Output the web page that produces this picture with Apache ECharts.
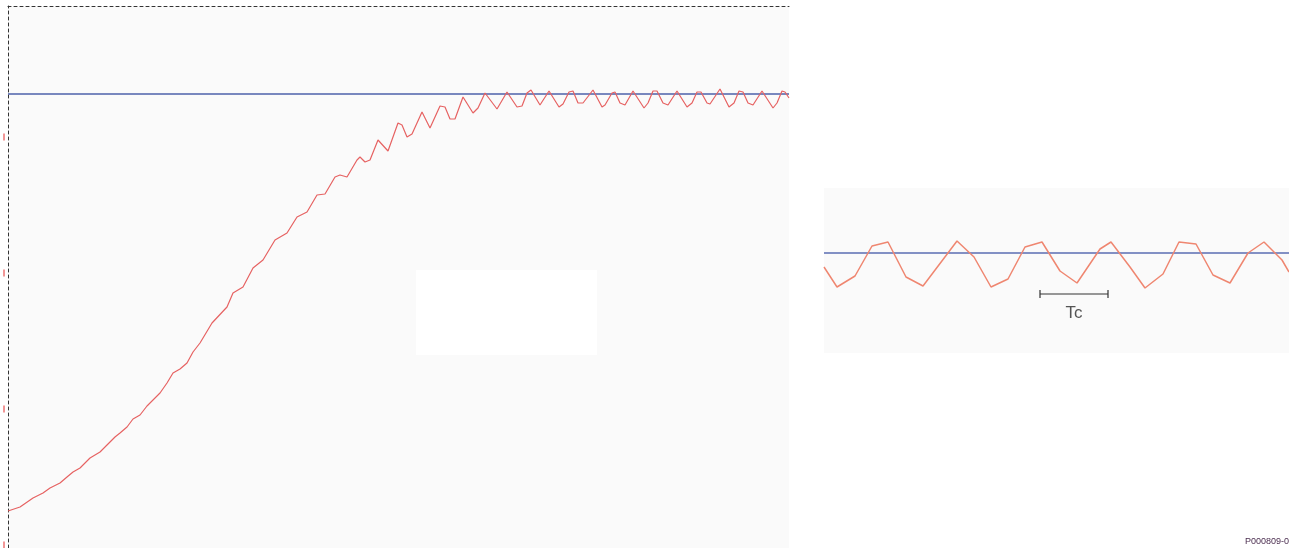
<!DOCTYPE html>
<html>
<head>
<meta charset="utf-8">
<script src="https://cdn.jsdelivr.net/npm/echarts@6/dist/echarts.min.js"></script>
<style>
html,body{margin:0;padding:0;background:#fff;}
#chart{width:1289px;height:548px;}
</style>
</head>
<body>
<div id="chart"></div>
<script>
// Main panel: time (px-scaled units) and measured value
const leftTime = [0,12,25,35,42,52,59,65,72,82,92,99,107,112,119,125,132,139,152,159,165,172,179,185,192,204,219,225,235,245,255,267,279,289,299,309,317,327,332,339,349,352,357,362,370,380,390,394,399,404,414,422,432,437,442,447,455,465,470,477,479,489,499,509,514,519,523,532,541,551,555,561,565,570,575,585,594,597,604,607,612,617,625,636,640,645,649,655,660,669,679,684,689,693,699,702,712,721,726,731,735,740,745,754,765,769,774,777,781];
const leftValue = [34,38,47,52,57,62,68,73,77,87,93,100,108,112,118,126,130,139,152,162,172,176,182,193,202,222,238,252,258,277,285,305,312,328,333,350,351,368,370,368,385,388,383,385,405,394,422,420,408,411,433,417,439,438,426,426,448,432,437,452,452,436,453,438,439,452,455,440,454,438,441,453,454,442,442,455,438,440,452,453,442,440,454,437,442,454,454,442,440,454,438,442,453,453,442,441,456,438,442,454,453,442,440,454,437,442,454,453,447];
const setpointMain = [451];
const axisTickValues = [0,136,272,408];

// Inset (zoomed steady state)
const insetTime = [0,13,31,48,64,82,99,133,150,167,184,201,218,236,253,276,287,306,321,339,355,372,389,406,424,440,458,465];
const insetValue = [86,66,77,107,111,76,67,112,96,66,74,106,111,82,70,104,111,86,65,79,111,109,78,70,100,111,93,81];
const setpointInset = [100];
const tcSpan = [216,284];
const tcLevel = [59];
const tcLabel = ['Tc'];

const chart = echarts.init(document.getElementById('chart'), null, {renderer:'canvas'});

const bracket = [
  [tcSpan[0], tcLevel[0]+4],[tcSpan[0], tcLevel[0]-4],[tcSpan[0], tcLevel[0]],
  [tcSpan[1], tcLevel[0]],[tcSpan[1], tcLevel[0]+4],[tcSpan[1], tcLevel[0]-4]
];

const option = {
  animation:false,
  backgroundColor:'#ffffff',
  grid:[
    {left:8, top:6, width:781, height:542, show:true, backgroundColor:'#fafafa', borderWidth:0},
    {left:824, top:188, width:465, height:165, show:true, backgroundColor:'#fafafa', borderWidth:0}
  ],
  xAxis:[
    {type:'value', gridIndex:0, min:0, max:781, position:'top',
     axisLine:{show:true, onZero:false, lineStyle:{color:'#333', width:1, type:[3,3]}},
     axisTick:{show:false}, axisLabel:{show:false}, splitLine:{show:false}},
    {type:'value', gridIndex:1, min:0, max:465, show:false, splitLine:{show:false}}
  ],
  yAxis:[
    {type:'value', gridIndex:0, min:-3, max:539,
     axisLine:{show:true, onZero:false, lineStyle:{color:'#333', width:1, type:[3,3]}},
     axisTick:{show:false}, axisLabel:{show:false}, splitLine:{show:false}},
    {type:'value', gridIndex:1, min:0, max:165, show:false, splitLine:{show:false}}
  ],
  graphic:[
    {type:'rect', shape:{x:416, y:270, width:181, height:85}, style:{fill:'#ffffff'}, z:1},
    {type:'text', left:1245, top:537, style:{text:'P000809-001', fontSize:9, fontFamily:'Liberation Sans, Arial, sans-serif', fill:'#4b2d4f'}}
  ],
  series:[
    {type:'line', xAxisIndex:0, yAxisIndex:0, symbol:'none', silent:true, z:3,
     data:[[0,setpointMain[0]],[781,setpointMain[0]]],
     lineStyle:{color:'#4c61aa', width:1.5}},
    {type:'line', xAxisIndex:0, yAxisIndex:0, symbol:'none', silent:true, z:4,
     data:leftTime.map((t,i)=>[t,leftValue[i]]),
     lineStyle:{color:'#e66262', width:1.2}},
    {type:'scatter', xAxisIndex:0, yAxisIndex:0, silent:true, clip:false, z:4,
     symbol:'rect', symbolSize:[2,7],
     data:axisTickValues.map(v=>[-4,v]),
     itemStyle:{color:'#ef7c7c'}},
    {type:'line', xAxisIndex:1, yAxisIndex:1, symbol:'none', silent:true, z:3,
     data:[[0,setpointInset[0]],[465,setpointInset[0]]],
     lineStyle:{color:'#5a6cb2', width:1.6}},
    {type:'line', xAxisIndex:1, yAxisIndex:1, symbol:'none', silent:true, z:4,
     data:insetTime.map((t,i)=>[t,insetValue[i]]),
     lineStyle:{color:'#ef8670', width:1.5}},
    {type:'line', xAxisIndex:1, yAxisIndex:1, symbol:'none', silent:true, z:4,
     data:bracket,
     lineStyle:{color:'#333', width:1.2}},
    {type:'scatter', xAxisIndex:1, yAxisIndex:1, silent:true, z:5,
     symbolSize:0,
     data:[[(tcSpan[0]+tcSpan[1])/2, tcLevel[0]-19]],
     label:{show:true, position:'inside', formatter:()=>tcLabel[0], fontSize:17, color:'#2a2a2a', fontFamily:'Liberation Sans, Arial, sans-serif'}}
  ]
};
chart.setOption(option);
</script>
</body>
</html>
